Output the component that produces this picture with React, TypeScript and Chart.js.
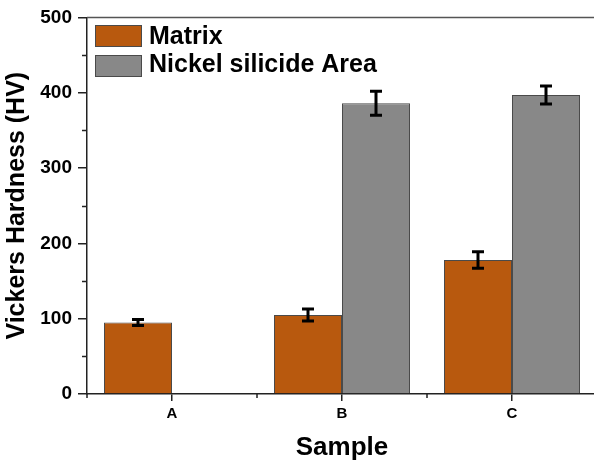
import React, { useEffect, useRef } from "react";
import { Chart, registerables } from "chart.js";

Chart.register(...registerables);

const categories = ["A", "B", "C"];
const seriesNames = ["Matrix", "Nickel silicide Area"];
const matrixValues = [95, 105, 178];
const matrixErrors = [4, 8, 11];
const silicideValues: (number | null)[] = [null, 386, 397];
const silicideErrors = [0, 16, 12];
const yTicks = [0, 100, 200, 300, 400, 500];
const yMinorTicks = [50, 150, 250, 350, 450];

const FONT = "'Liberation Sans', Arial, sans-serif";
const ORANGE = "#B8590E";
const GREY = "#888888";
const BAR_BORDER = "#4a4a4a";
const AXIS = "#222222";

const errorArrays = [matrixErrors, silicideErrors];

const errorBarPlugin = {
  id: "errorBars",
  afterDatasetsDraw(chart: any) {
    const ctx = chart.ctx;
    const y = chart.scales.y;
    ctx.save();
    ctx.strokeStyle = "#000";
    ctx.lineWidth = 3;
    chart.data.datasets.forEach((ds: any, i: number) => {
      const meta = chart.getDatasetMeta(i);
      meta.data.forEach((el: any, j: number) => {
        const v = ds.data[j];
        const e = errorArrays[i][j];
        if (v == null || !e) return;
        const x = el.x;
        const yt = y.getPixelForValue(v + e);
        const yb = y.getPixelForValue(v - e);
        const cap = 6;
        ctx.beginPath();
        ctx.moveTo(x, yt);
        ctx.lineTo(x, yb);
        ctx.moveTo(x - cap, yt);
        ctx.lineTo(x + cap, yt);
        ctx.moveTo(x - cap, yb);
        ctx.lineTo(x + cap, yb);
        ctx.stroke();
      });
    });
    ctx.restore();
  },
};

const framePlugin = {
  id: "frameAndMinor",
  afterDraw(chart: any) {
    const ctx = chart.ctx;
    const { left, right, top, bottom } = chart.chartArea;
    const y = chart.scales.y;
    const x = chart.scales.x;
    ctx.save();
    ctx.strokeStyle = "#555555";
    ctx.lineWidth = 1.5;
    ctx.beginPath();
    ctx.moveTo(left, top);
    ctx.lineTo(right, top);
    ctx.lineTo(right, bottom);
    ctx.stroke();
    ctx.strokeStyle = AXIS;
    ctx.lineWidth = 1.5;
    ctx.beginPath();
    yMinorTicks.forEach((v) => {
      const py = Math.round(y.getPixelForValue(v)) + 0.5;
      ctx.moveTo(left - 5, py);
      ctx.lineTo(left, py);
    });
    for (let i = 0; i <= categories.length; i++) {
      const px = x.getPixelForValue(i - 0.5);
      ctx.moveTo(px, bottom);
      ctx.lineTo(px, bottom + 4);
    }
    ctx.stroke();
    ctx.restore();
  },
};

const legendPlugin = {
  id: "customLegend",
  afterDraw(chart: any) {
    const ctx = chart.ctx;
    ctx.save();
    const rows = [
      { y: 25, baseline: 43.5 },
      { y: 55, baseline: 72 },
    ];
    chart.data.datasets.forEach((ds: any, i: number) => {
      const r = rows[i];
      ctx.fillStyle = ds.backgroundColor;
      ctx.fillRect(95, r.y, 47, 22);
      ctx.strokeStyle = BAR_BORDER;
      ctx.lineWidth = 1;
      ctx.strokeRect(95.5, r.y + 0.5, 46, 21);
      ctx.fillStyle = "#000";
      ctx.font = `bold 25px ${FONT}`;
      ctx.textAlign = "left";
      ctx.textBaseline = "alphabetic";
      ctx.fillText(ds.label, 149, r.baseline);
    });
    ctx.restore();
  },
};

export default function App() {
  const ref = useRef<HTMLCanvasElement | null>(null);
  useEffect(() => {
    if (!ref.current) return;
    const chart = new Chart(ref.current, {
      type: "bar",
      data: {
        labels: categories,
        datasets: [
          {
            label: seriesNames[0],
            data: matrixValues,
            backgroundColor: ORANGE,
            borderColor: BAR_BORDER,
            borderWidth: 1,
            categoryPercentage: 0.8,
            barPercentage: 1.0,
          },
          {
            label: seriesNames[1],
            data: silicideValues,
            backgroundColor: GREY,
            borderColor: BAR_BORDER,
            borderWidth: 1,
            categoryPercentage: 0.8,
            barPercentage: 1.0,
          },
        ],
      },
      options: {
        responsive: false,
        animation: false,
        devicePixelRatio: 1,
        layout: { padding: { left: 0, top: 15, right: 13, bottom: 0 } },
        plugins: {
          legend: { display: false },
          tooltip: { enabled: false },
        },
        scales: {
          x: {
            afterFit: (s: any) => {
              s.height = 70;
            },
            grid: {
              display: true,
              drawOnChartArea: false,
              drawTicks: true,
              tickLength: 7,
              offset: false,
              color: AXIS,
              lineWidth: 1.5,
            },
            border: { display: true, color: AXIS, width: 1.5 },
            ticks: {
              color: "#000",
              font: { family: FONT, weight: "bold", size: 15 },
              padding: 4,
            },
            title: {
              display: true,
              text: "Sample",
              color: "#000",
              font: { family: FONT, weight: "bold", size: 26 },
              padding: { top: 0, bottom: 1 },
            },
          },
          y: {
            min: 0,
            max: 500,
            afterFit: (s: any) => {
              s.width = 87;
            },
            afterBuildTicks: (s: any) => {
              s.ticks = yTicks.map((v) => ({ value: v }));
            },
            grid: {
              display: true,
              drawOnChartArea: false,
              drawTicks: true,
              tickLength: 9,
              color: AXIS,
              lineWidth: 1.5,
            },
            border: { display: true, color: AXIS, width: 1.5 },
            ticks: {
              color: "#000",
              font: { family: FONT, weight: "bold", size: 19 },
              padding: 6,
            },
            title: {
              display: true,
              text: "Vickers Hardness (HV)",
              color: "#000",
              font: { family: FONT, weight: "bold", size: 25 },
              padding: { top: 2, bottom: 0 },
            },
          },
        },
      },
      plugins: [errorBarPlugin, framePlugin, legendPlugin],
    } as any);
    return () => chart.destroy();
  }, []);
  return (
    <div
      style={{
        position: "fixed",
        left: 0,
        top: 0,
        width: 594,
        height: 464,
        overflow: "hidden",
        background: "#fff",
      }}
    >
      <canvas ref={ref} width={610} height={464} style={{ display: "block" }} />
    </div>
  );
}
